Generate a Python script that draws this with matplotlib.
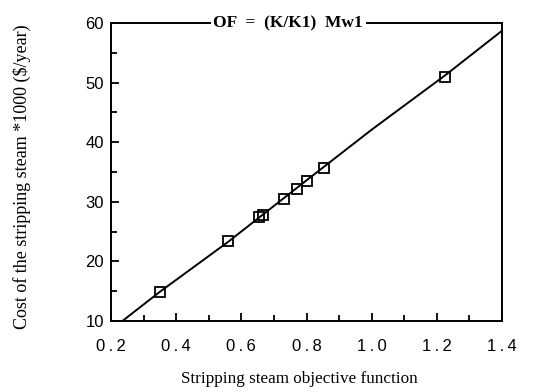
import numpy as np
import matplotlib
matplotlib.use('Agg')
from matplotlib import pyplot as plt
from matplotlib.ticker import MultipleLocator

# objective function vs. steam cost
of_values = [0.35, 0.56, 0.655, 0.665, 0.73, 0.77, 0.80, 0.855, 1.225]
cost_values = [14.8, 23.4, 27.4, 27.8, 30.5, 32.2, 33.5, 35.7, 51.0]

# fitted line
fit_x = [0.235, 0.35, 0.56, 0.80, 1.0, 1.225, 1.4]
fit_y = [10.0, 14.9, 23.3, 33.6, 42.1, 51.2, 58.7]

fig = plt.figure(figsize=(5.57, 3.92), dpi=100)
ax = fig.add_axes([111/557, 1 - 321/392, (502-111)/557, (321-23)/392])

ax.plot(fit_x, fit_y, color='black', lw=1.4, zorder=2)
ax.plot(of_values, cost_values, ls='none', marker='s', ms=7, mfc='none',
        mec='black', mew=1.3, zorder=3)

ax.set_xlim(0.2, 1.4)
ax.set_ylim(10, 60)
ax.xaxis.set_major_locator(MultipleLocator(0.2))
ax.xaxis.set_minor_locator(MultipleLocator(0.1))
ax.yaxis.set_major_locator(MultipleLocator(10))
ax.yaxis.set_minor_locator(MultipleLocator(5))
ax.tick_params(which='both', direction='in', top=False, right=False,
               width=1.3, labelsize=12, labelfontfamily='Liberation Sans')
ax.tick_params(which='major', length=6)
ax.tick_params(which='minor', length=4)
ax.tick_params(axis='x', which='major', pad=13)
ax.tick_params(axis='y', which='major', pad=5)
ax.xaxis.set_major_formatter(plt.FuncFormatter(lambda v, p: '\u2009'.join('%.1f' % v)))

for s in ax.spines.values():
    s.set_linewidth(1.4)

ax.text(0.453, 1.0, 'OF  =  (K/K1)  Mw1', transform=ax.transAxes, ha='center',
        va='center', fontsize=12.5, family='Liberation Serif', fontweight='bold',
        bbox=dict(fc='white', ec='none', pad=2))

ax.set_xlabel('Stripping steam objective function', family='Liberation Serif',
              fontsize=12.3)
ax.xaxis.set_label_coords(0.483, -0.168)
ax.set_ylabel('Cost of the stripping steam *1000 ($/year)',
              family='Liberation Serif', fontsize=13)
ax.yaxis.set_label_coords(-0.205, 0.483)

fig.savefig('out.png', dpi=100)
